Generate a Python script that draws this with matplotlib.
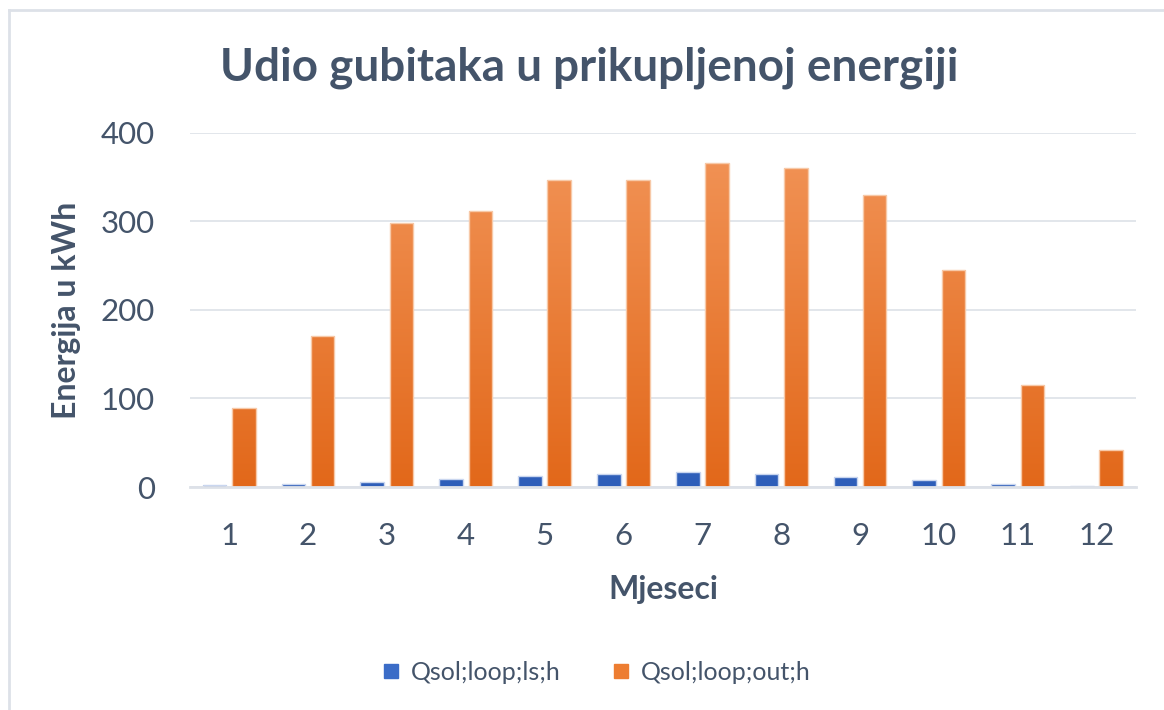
import matplotlib
matplotlib.use('Agg')
import matplotlib.pyplot as plt
from matplotlib.colors import LinearSegmentedColormap
from matplotlib.lines import Line2D
import numpy as np

months = [str(m) for m in range(1, 13)]
loop_ls = [2, 3.5, 5.5, 9.5, 13, 15, 16.5, 15, 11, 8, 3, 1.5]
loop_out = [89, 170, 298, 312, 347, 347, 366, 360, 330, 245, 115, 42]

title = 'Udio gubitaka u prikupljenoj energiji'
xlabel = 'Mjeseci'
ylabel = 'Energija u kWh'
legend_labels = ['Qsol;loop;ls;h', 'Qsol;loop;out;h']

txt_color = '#44546a'
plt.rcParams['font.family'] = ['Lato', 'DejaVu Sans']

fig = plt.figure(figsize=(11.64, 7.1), dpi=100)
ax = fig.add_axes([0.163, 0.314, 0.813, 0.499])

# gradient fill: light at top, dark at bottom
blue_cmap = LinearSegmentedColormap.from_list('b', ['#2e5eb9', '#5b88d8'])
orange_cmap = LinearSegmentedColormap.from_list('o', ['#e2681a', '#f29559'])

x = np.arange(len(months))
w = 0.30
off = 0.185

def gradient_bars(xs, vals, cmap, edge):
    bars = ax.bar(xs, vals, width=w, color='none', edgecolor=edge, linewidth=1.0, zorder=3)
    for b in bars:
        x0, y0 = b.get_x(), b.get_y()
        bw, bh = b.get_width(), b.get_height()
        # gradient relative to full axis height so tall bars get lighter tops
        g = np.linspace(0, bh / 400.0, 256).reshape(-1, 1)
        im = ax.imshow(g, cmap=cmap, vmin=0, vmax=1, origin='lower', aspect='auto',
                       extent=[x0, x0 + bw, y0, y0 + bh], zorder=2)
        im.set_clip_path(b)
    return bars

gradient_bars(x - off, loop_ls, blue_cmap, '#c9d6ef')
gradient_bars(x + off, loop_out, orange_cmap, '#f7c9a8')

ax.set_xlim(-0.5, len(months) - 0.5)
ax.set_ylim(0, 400)
ax.set_yticks([0, 100, 200, 300, 400])
ax.set_xticks(x)
ax.set_xticklabels(months)

ax.grid(axis='y', color='#dde1e8', linewidth=1.2, zorder=0)
ax.set_axisbelow(True)
for s in ['top', 'right', 'left']:
    ax.spines[s].set_visible(False)
ax.spines['bottom'].set_color('#dde1e8')
ax.spines['bottom'].set_linewidth(2)
ax.spines['bottom'].set_zorder(4)
ax.tick_params(length=0, labelsize=22.5, colors=txt_color)
ax.tick_params(axis='y', pad=25)
ax.tick_params(axis='x', pad=25)

ax.set_xlabel(xlabel, fontsize=23, fontweight='bold', color=txt_color, labelpad=18)
ax.set_ylabel(ylabel, fontsize=23, fontweight='bold', color=txt_color, labelpad=14)

fig.text(0.506, 0.905, title, fontsize=33, fontweight='bold', color=txt_color,
         ha='center', va='center')

handles = [Line2D([], [], marker='s', linestyle='none', markersize=10, color='#3b6cc7'),
           Line2D([], [], marker='s', linestyle='none', markersize=10, color='#ed7d31')]
fig.legend(handles, legend_labels, loc='center', bbox_to_anchor=(0.512, 0.053),
           ncol=2, frameon=False, fontsize=18, labelcolor=txt_color,
           handlelength=0.8, handletextpad=0.4, columnspacing=2.0)

# chart frame (only left and top edges are visible in the crop)
fig.add_artist(Line2D([9 / 1164, 9 / 1164], [0, 1 - 10 / 710], transform=fig.transFigure,
                      color='#dde1e8', linewidth=2))
fig.add_artist(Line2D([9 / 1164, 1], [1 - 10 / 710, 1 - 10 / 710], transform=fig.transFigure,
                      color='#dde1e8', linewidth=2))

fig.savefig('out.png', dpi=100, facecolor='white')
